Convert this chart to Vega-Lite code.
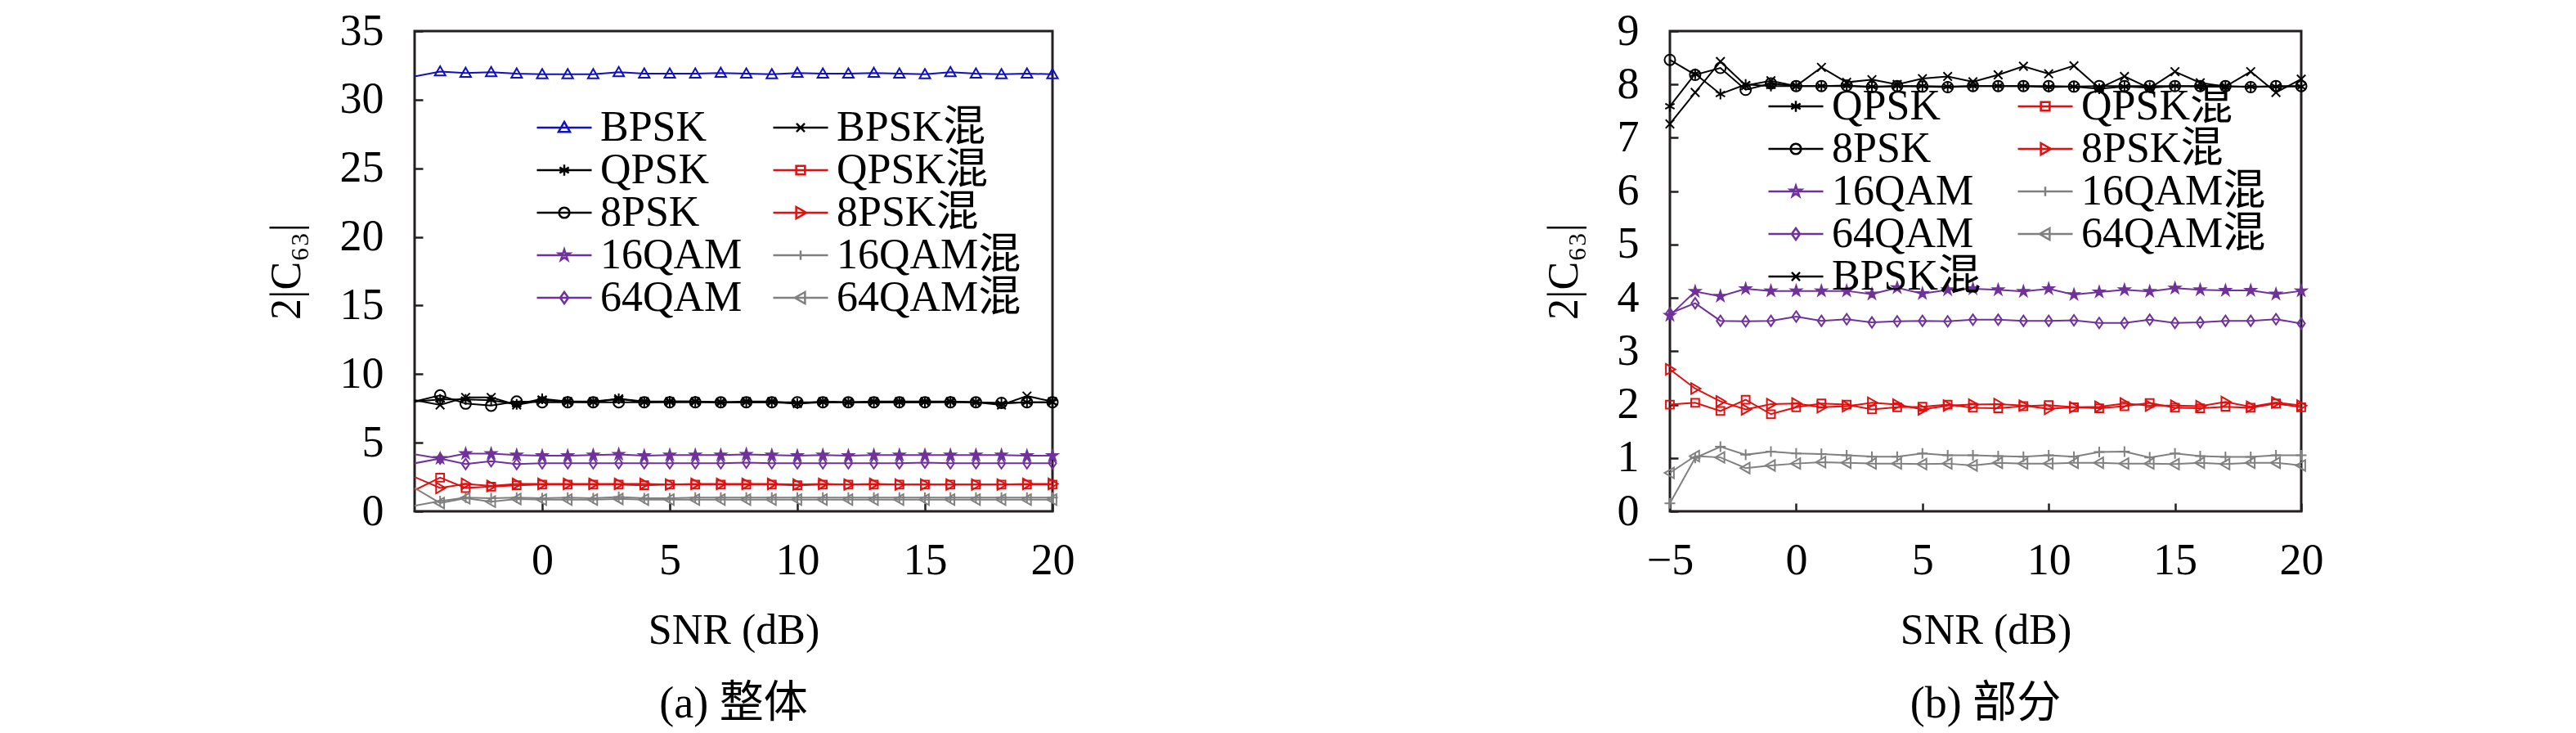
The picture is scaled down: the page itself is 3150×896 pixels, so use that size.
{
"$schema": "https://vega.github.io/schema/vega-lite/v6.json",
"padding": {"left": 322, "top": 9, "right": 0, "bottom": 0},
"spacing": 562,
"datasets": {
"a": [
{"s":"BPSK","x":-5,"v":31.7},{"s":"BPSK","x":-4,"v":32.05},{"s":"BPSK","x":-3,"v":31.95},{"s":"BPSK","x":-2,"v":32.0},{"s":"BPSK","x":-1,"v":31.9},{"s":"BPSK","x":0,"v":31.85},{"s":"BPSK","x":1,"v":31.85},{"s":"BPSK","x":2,"v":31.85},{"s":"BPSK","x":3,"v":32.0},{"s":"BPSK","x":4,"v":31.9},{"s":"BPSK","x":5,"v":31.9},{"s":"BPSK","x":6,"v":31.9},{"s":"BPSK","x":7,"v":31.95},{"s":"BPSK","x":8,"v":31.9},{"s":"BPSK","x":9,"v":31.85},{"s":"BPSK","x":10,"v":31.95},{"s":"BPSK","x":11,"v":31.9},{"s":"BPSK","x":12,"v":31.9},{"s":"BPSK","x":13,"v":31.95},{"s":"BPSK","x":14,"v":31.9},{"s":"BPSK","x":15,"v":31.85},{"s":"BPSK","x":16,"v":32.0},{"s":"BPSK","x":17,"v":31.9},{"s":"BPSK","x":18,"v":31.85},{"s":"BPSK","x":19,"v":31.9},{"s":"BPSK","x":20,"v":31.85},
{"s":"BPSK混","x":-5,"v":8.1},{"s":"BPSK混","x":-4,"v":7.75},{"s":"BPSK混","x":-3,"v":8.3},{"s":"BPSK混","x":-2,"v":8.3},{"s":"BPSK混","x":-1,"v":7.75},{"s":"BPSK混","x":0,"v":8.1},{"s":"BPSK混","x":1,"v":8.0},{"s":"BPSK混","x":2,"v":8.0},{"s":"BPSK混","x":3,"v":8.2},{"s":"BPSK混","x":4,"v":8.0},{"s":"BPSK混","x":5,"v":8.0},{"s":"BPSK混","x":6,"v":8.0},{"s":"BPSK混","x":7,"v":7.95},{"s":"BPSK混","x":8,"v":8.0},{"s":"BPSK混","x":9,"v":8.0},{"s":"BPSK混","x":10,"v":7.85},{"s":"BPSK混","x":11,"v":8.0},{"s":"BPSK混","x":12,"v":7.95},{"s":"BPSK混","x":13,"v":8.0},{"s":"BPSK混","x":14,"v":8.0},{"s":"BPSK混","x":15,"v":8.0},{"s":"BPSK混","x":16,"v":8.0},{"s":"BPSK混","x":17,"v":7.95},{"s":"BPSK混","x":18,"v":7.75},{"s":"BPSK混","x":19,"v":8.4},{"s":"BPSK混","x":20,"v":8.0},
{"s":"QPSK","x":-5,"v":8.0},{"s":"QPSK","x":-4,"v":8.15},{"s":"QPSK","x":-3,"v":8.15},{"s":"QPSK","x":-2,"v":8.1},{"s":"QPSK","x":-1,"v":7.8},{"s":"QPSK","x":0,"v":8.2},{"s":"QPSK","x":1,"v":8.0},{"s":"QPSK","x":2,"v":7.95},{"s":"QPSK","x":3,"v":8.2},{"s":"QPSK","x":4,"v":7.95},{"s":"QPSK","x":5,"v":8.0},{"s":"QPSK","x":6,"v":8.0},{"s":"QPSK","x":7,"v":7.95},{"s":"QPSK","x":8,"v":7.95},{"s":"QPSK","x":9,"v":7.95},{"s":"QPSK","x":10,"v":7.85},{"s":"QPSK","x":11,"v":7.95},{"s":"QPSK","x":12,"v":7.95},{"s":"QPSK","x":13,"v":7.95},{"s":"QPSK","x":14,"v":7.95},{"s":"QPSK","x":15,"v":7.95},{"s":"QPSK","x":16,"v":8.0},{"s":"QPSK","x":17,"v":7.95},{"s":"QPSK","x":18,"v":7.85},{"s":"QPSK","x":19,"v":7.95},{"s":"QPSK","x":20,"v":7.95},
{"s":"QPSK混","x":-5,"v":1.55},{"s":"QPSK混","x":-4,"v":2.45},{"s":"QPSK混","x":-3,"v":1.7},{"s":"QPSK混","x":-2,"v":1.8},{"s":"QPSK混","x":-1,"v":1.9},{"s":"QPSK混","x":0,"v":1.95},{"s":"QPSK混","x":1,"v":1.95},{"s":"QPSK混","x":2,"v":1.95},{"s":"QPSK混","x":3,"v":1.95},{"s":"QPSK混","x":4,"v":1.9},{"s":"QPSK混","x":5,"v":1.95},{"s":"QPSK混","x":6,"v":1.95},{"s":"QPSK混","x":7,"v":1.95},{"s":"QPSK混","x":8,"v":1.95},{"s":"QPSK混","x":9,"v":1.95},{"s":"QPSK混","x":10,"v":1.9},{"s":"QPSK混","x":11,"v":1.95},{"s":"QPSK混","x":12,"v":1.95},{"s":"QPSK混","x":13,"v":1.95},{"s":"QPSK混","x":14,"v":1.95},{"s":"QPSK混","x":15,"v":1.95},{"s":"QPSK混","x":16,"v":1.95},{"s":"QPSK混","x":17,"v":1.95},{"s":"QPSK混","x":18,"v":1.95},{"s":"QPSK混","x":19,"v":1.95},{"s":"QPSK混","x":20,"v":1.95},
{"s":"8PSK","x":-5,"v":8.0},{"s":"8PSK","x":-4,"v":8.45},{"s":"8PSK","x":-3,"v":7.85},{"s":"8PSK","x":-2,"v":7.7},{"s":"8PSK","x":-1,"v":8.0},{"s":"8PSK","x":0,"v":7.95},{"s":"8PSK","x":1,"v":7.95},{"s":"8PSK","x":2,"v":7.95},{"s":"8PSK","x":3,"v":7.95},{"s":"8PSK","x":4,"v":7.95},{"s":"8PSK","x":5,"v":7.95},{"s":"8PSK","x":6,"v":7.95},{"s":"8PSK","x":7,"v":7.95},{"s":"8PSK","x":8,"v":7.95},{"s":"8PSK","x":9,"v":7.95},{"s":"8PSK","x":10,"v":7.95},{"s":"8PSK","x":11,"v":7.95},{"s":"8PSK","x":12,"v":7.95},{"s":"8PSK","x":13,"v":7.95},{"s":"8PSK","x":14,"v":7.95},{"s":"8PSK","x":15,"v":7.95},{"s":"8PSK","x":16,"v":7.95},{"s":"8PSK","x":17,"v":7.95},{"s":"8PSK","x":18,"v":7.9},{"s":"8PSK","x":19,"v":7.95},{"s":"8PSK","x":20,"v":7.95},
{"s":"8PSK混","x":-5,"v":2.5},{"s":"8PSK混","x":-4,"v":1.7},{"s":"8PSK混","x":-3,"v":2.0},{"s":"8PSK混","x":-2,"v":1.85},{"s":"8PSK混","x":-1,"v":2.0},{"s":"8PSK混","x":0,"v":2.0},{"s":"8PSK混","x":1,"v":2.0},{"s":"8PSK混","x":2,"v":2.0},{"s":"8PSK混","x":3,"v":2.0},{"s":"8PSK混","x":4,"v":2.0},{"s":"8PSK混","x":5,"v":1.95},{"s":"8PSK混","x":6,"v":2.0},{"s":"8PSK混","x":7,"v":2.0},{"s":"8PSK混","x":8,"v":2.0},{"s":"8PSK混","x":9,"v":2.0},{"s":"8PSK混","x":10,"v":1.95},{"s":"8PSK混","x":11,"v":2.0},{"s":"8PSK混","x":12,"v":1.95},{"s":"8PSK混","x":13,"v":2.0},{"s":"8PSK混","x":14,"v":1.95},{"s":"8PSK混","x":15,"v":1.95},{"s":"8PSK混","x":16,"v":1.95},{"s":"8PSK混","x":17,"v":1.95},{"s":"8PSK混","x":18,"v":1.95},{"s":"8PSK混","x":19,"v":2.0},{"s":"8PSK混","x":20,"v":2.0},
{"s":"16QAM","x":-5,"v":4.15},{"s":"16QAM","x":-4,"v":3.85},{"s":"16QAM","x":-3,"v":4.2},{"s":"16QAM","x":-2,"v":4.2},{"s":"16QAM","x":-1,"v":4.1},{"s":"16QAM","x":0,"v":4.05},{"s":"16QAM","x":1,"v":4.05},{"s":"16QAM","x":2,"v":4.1},{"s":"16QAM","x":3,"v":4.15},{"s":"16QAM","x":4,"v":4.05},{"s":"16QAM","x":5,"v":4.1},{"s":"16QAM","x":6,"v":4.1},{"s":"16QAM","x":7,"v":4.1},{"s":"16QAM","x":8,"v":4.15},{"s":"16QAM","x":9,"v":4.1},{"s":"16QAM","x":10,"v":4.05},{"s":"16QAM","x":11,"v":4.1},{"s":"16QAM","x":12,"v":4.05},{"s":"16QAM","x":13,"v":4.1},{"s":"16QAM","x":14,"v":4.1},{"s":"16QAM","x":15,"v":4.1},{"s":"16QAM","x":16,"v":4.1},{"s":"16QAM","x":17,"v":4.1},{"s":"16QAM","x":18,"v":4.1},{"s":"16QAM","x":19,"v":4.05},{"s":"16QAM","x":20,"v":4.05},
{"s":"16QAM混","x":-5,"v":0.4},{"s":"16QAM混","x":-4,"v":0.75},{"s":"16QAM混","x":-3,"v":1.0},{"s":"16QAM混","x":-2,"v":0.95},{"s":"16QAM混","x":-1,"v":1.0},{"s":"16QAM混","x":0,"v":0.95},{"s":"16QAM混","x":1,"v":1.0},{"s":"16QAM混","x":2,"v":0.95},{"s":"16QAM混","x":3,"v":1.05},{"s":"16QAM混","x":4,"v":0.95},{"s":"16QAM混","x":5,"v":0.95},{"s":"16QAM混","x":6,"v":1.0},{"s":"16QAM混","x":7,"v":1.0},{"s":"16QAM混","x":8,"v":1.0},{"s":"16QAM混","x":9,"v":1.0},{"s":"16QAM混","x":10,"v":1.0},{"s":"16QAM混","x":11,"v":1.0},{"s":"16QAM混","x":12,"v":1.0},{"s":"16QAM混","x":13,"v":1.0},{"s":"16QAM混","x":14,"v":1.0},{"s":"16QAM混","x":15,"v":1.0},{"s":"16QAM混","x":16,"v":1.0},{"s":"16QAM混","x":17,"v":1.0},{"s":"16QAM混","x":18,"v":1.0},{"s":"16QAM混","x":19,"v":1.0},{"s":"16QAM混","x":20,"v":1.0},
{"s":"64QAM","x":-5,"v":3.5},{"s":"64QAM","x":-4,"v":3.85},{"s":"64QAM","x":-3,"v":3.45},{"s":"64QAM","x":-2,"v":3.65},{"s":"64QAM","x":-1,"v":3.45},{"s":"64QAM","x":0,"v":3.5},{"s":"64QAM","x":1,"v":3.5},{"s":"64QAM","x":2,"v":3.5},{"s":"64QAM","x":3,"v":3.5},{"s":"64QAM","x":4,"v":3.5},{"s":"64QAM","x":5,"v":3.5},{"s":"64QAM","x":6,"v":3.5},{"s":"64QAM","x":7,"v":3.5},{"s":"64QAM","x":8,"v":3.55},{"s":"64QAM","x":9,"v":3.5},{"s":"64QAM","x":10,"v":3.5},{"s":"64QAM","x":11,"v":3.5},{"s":"64QAM","x":12,"v":3.5},{"s":"64QAM","x":13,"v":3.5},{"s":"64QAM","x":14,"v":3.5},{"s":"64QAM","x":15,"v":3.55},{"s":"64QAM","x":16,"v":3.5},{"s":"64QAM","x":17,"v":3.5},{"s":"64QAM","x":18,"v":3.5},{"s":"64QAM","x":19,"v":3.5},{"s":"64QAM","x":20,"v":3.5},
{"s":"64QAM混","x":-5,"v":1.7},{"s":"64QAM混","x":-4,"v":0.6},{"s":"64QAM混","x":-3,"v":0.95},{"s":"64QAM混","x":-2,"v":0.7},{"s":"64QAM混","x":-1,"v":0.9},{"s":"64QAM混","x":0,"v":0.85},{"s":"64QAM混","x":1,"v":0.85},{"s":"64QAM混","x":2,"v":0.85},{"s":"64QAM混","x":3,"v":0.9},{"s":"64QAM混","x":4,"v":0.85},{"s":"64QAM混","x":5,"v":0.85},{"s":"64QAM混","x":6,"v":0.85},{"s":"64QAM混","x":7,"v":0.85},{"s":"64QAM混","x":8,"v":0.85},{"s":"64QAM混","x":9,"v":0.85},{"s":"64QAM混","x":10,"v":0.85},{"s":"64QAM混","x":11,"v":0.85},{"s":"64QAM混","x":12,"v":0.85},{"s":"64QAM混","x":13,"v":0.85},{"s":"64QAM混","x":14,"v":0.85},{"s":"64QAM混","x":15,"v":0.85},{"s":"64QAM混","x":16,"v":0.85},{"s":"64QAM混","x":17,"v":0.85},{"s":"64QAM混","x":18,"v":0.85},{"s":"64QAM混","x":19,"v":0.85},{"s":"64QAM混","x":20,"v":0.85}
],
"b": [
{"s":"QPSK","x":-5,"v":7.59},{"s":"QPSK","x":-4,"v":8.2},{"s":"QPSK","x":-3,"v":7.82},{"s":"QPSK","x":-2,"v":8.0},{"s":"QPSK","x":-1,"v":7.97},{"s":"QPSK","x":0,"v":7.97},{"s":"QPSK","x":1,"v":7.97},{"s":"QPSK","x":2,"v":7.97},{"s":"QPSK","x":3,"v":7.96},{"s":"QPSK","x":4,"v":7.97},{"s":"QPSK","x":5,"v":7.97},{"s":"QPSK","x":6,"v":7.96},{"s":"QPSK","x":7,"v":7.97},{"s":"QPSK","x":8,"v":7.97},{"s":"QPSK","x":9,"v":7.97},{"s":"QPSK","x":10,"v":7.95},{"s":"QPSK","x":11,"v":7.96},{"s":"QPSK","x":12,"v":7.92},{"s":"QPSK","x":13,"v":7.96},{"s":"QPSK","x":14,"v":7.94},{"s":"QPSK","x":15,"v":7.97},{"s":"QPSK","x":16,"v":7.96},{"s":"QPSK","x":17,"v":7.96},{"s":"QPSK","x":18,"v":7.96},{"s":"QPSK","x":19,"v":7.96},{"s":"QPSK","x":20,"v":7.96},
{"s":"QPSK混","x":-5,"v":2.0},{"s":"QPSK混","x":-4,"v":2.035},{"s":"QPSK混","x":-3,"v":1.88},{"s":"QPSK混","x":-2,"v":2.09},{"s":"QPSK混","x":-1,"v":1.82},{"s":"QPSK混","x":0,"v":1.95},{"s":"QPSK混","x":1,"v":2.02},{"s":"QPSK混","x":2,"v":2.0},{"s":"QPSK混","x":3,"v":1.91},{"s":"QPSK混","x":4,"v":1.95},{"s":"QPSK混","x":5,"v":1.96},{"s":"QPSK混","x":6,"v":2.0},{"s":"QPSK混","x":7,"v":1.94},{"s":"QPSK混","x":8,"v":1.93},{"s":"QPSK混","x":9,"v":1.97},{"s":"QPSK混","x":10,"v":1.99},{"s":"QPSK混","x":11,"v":1.95},{"s":"QPSK混","x":12,"v":1.93},{"s":"QPSK混","x":13,"v":1.97},{"s":"QPSK混","x":14,"v":2.03},{"s":"QPSK混","x":15,"v":1.94},{"s":"QPSK混","x":16,"v":1.93},{"s":"QPSK混","x":17,"v":1.96},{"s":"QPSK混","x":18,"v":1.94},{"s":"QPSK混","x":19,"v":2.02},{"s":"QPSK混","x":20,"v":1.95},
{"s":"8PSK","x":-5,"v":8.46},{"s":"8PSK","x":-4,"v":8.18},{"s":"8PSK","x":-3,"v":8.31},{"s":"8PSK","x":-2,"v":7.9},{"s":"8PSK","x":-1,"v":8.02},{"s":"8PSK","x":0,"v":7.97},{"s":"8PSK","x":1,"v":7.97},{"s":"8PSK","x":2,"v":7.98},{"s":"8PSK","x":3,"v":7.95},{"s":"8PSK","x":4,"v":7.97},{"s":"8PSK","x":5,"v":7.96},{"s":"8PSK","x":6,"v":7.95},{"s":"8PSK","x":7,"v":7.97},{"s":"8PSK","x":8,"v":7.97},{"s":"8PSK","x":9,"v":7.97},{"s":"8PSK","x":10,"v":7.97},{"s":"8PSK","x":11,"v":7.96},{"s":"8PSK","x":12,"v":7.97},{"s":"8PSK","x":13,"v":7.97},{"s":"8PSK","x":14,"v":7.97},{"s":"8PSK","x":15,"v":7.97},{"s":"8PSK","x":16,"v":7.97},{"s":"8PSK","x":17,"v":7.97},{"s":"8PSK","x":18,"v":7.95},{"s":"8PSK","x":19,"v":7.97},{"s":"8PSK","x":20,"v":7.97},
{"s":"8PSK混","x":-5,"v":2.66},{"s":"8PSK混","x":-4,"v":2.3},{"s":"8PSK混","x":-3,"v":2.06},{"s":"8PSK混","x":-2,"v":1.91},{"s":"8PSK混","x":-1,"v":2.01},{"s":"8PSK混","x":0,"v":2.02},{"s":"8PSK混","x":1,"v":1.95},{"s":"8PSK混","x":2,"v":1.97},{"s":"8PSK混","x":3,"v":2.035},{"s":"8PSK混","x":4,"v":2.0},{"s":"8PSK混","x":5,"v":1.91},{"s":"8PSK混","x":6,"v":1.98},{"s":"8PSK混","x":7,"v":2.0},{"s":"8PSK混","x":8,"v":2.01},{"s":"8PSK混","x":9,"v":1.98},{"s":"8PSK混","x":10,"v":1.92},{"s":"8PSK混","x":11,"v":1.95},{"s":"8PSK混","x":12,"v":1.96},{"s":"8PSK混","x":13,"v":2.02},{"s":"8PSK混","x":14,"v":1.98},{"s":"8PSK混","x":15,"v":1.98},{"s":"8PSK混","x":16,"v":1.97},{"s":"8PSK混","x":17,"v":2.05},{"s":"8PSK混","x":18,"v":1.96},{"s":"8PSK混","x":19,"v":2.04},{"s":"8PSK混","x":20,"v":1.98},
{"s":"16QAM","x":-5,"v":3.67},{"s":"16QAM","x":-4,"v":4.12},{"s":"16QAM","x":-3,"v":4.03},{"s":"16QAM","x":-2,"v":4.17},{"s":"16QAM","x":-1,"v":4.13},{"s":"16QAM","x":0,"v":4.13},{"s":"16QAM","x":1,"v":4.13},{"s":"16QAM","x":2,"v":4.13},{"s":"16QAM","x":3,"v":4.07},{"s":"16QAM","x":4,"v":4.19},{"s":"16QAM","x":5,"v":4.08},{"s":"16QAM","x":6,"v":4.15},{"s":"16QAM","x":7,"v":4.17},{"s":"16QAM","x":8,"v":4.15},{"s":"16QAM","x":9,"v":4.12},{"s":"16QAM","x":10,"v":4.17},{"s":"16QAM","x":11,"v":4.06},{"s":"16QAM","x":12,"v":4.11},{"s":"16QAM","x":13,"v":4.15},{"s":"16QAM","x":14,"v":4.12},{"s":"16QAM","x":15,"v":4.18},{"s":"16QAM","x":16,"v":4.15},{"s":"16QAM","x":17,"v":4.14},{"s":"16QAM","x":18,"v":4.14},{"s":"16QAM","x":19,"v":4.07},{"s":"16QAM","x":20,"v":4.13},
{"s":"16QAM混","x":-5,"v":0.15},{"s":"16QAM混","x":-4,"v":1.0},{"s":"16QAM混","x":-3,"v":1.21},{"s":"16QAM混","x":-2,"v":1.06},{"s":"16QAM混","x":-1,"v":1.12},{"s":"16QAM混","x":0,"v":1.085},{"s":"16QAM混","x":1,"v":1.075},{"s":"16QAM混","x":2,"v":1.05},{"s":"16QAM混","x":3,"v":1.025},{"s":"16QAM混","x":4,"v":1.025},{"s":"16QAM混","x":5,"v":1.085},{"s":"16QAM混","x":6,"v":1.05},{"s":"16QAM混","x":7,"v":1.05},{"s":"16QAM混","x":8,"v":1.035},{"s":"16QAM混","x":9,"v":1.025},{"s":"16QAM混","x":10,"v":1.05},{"s":"16QAM混","x":11,"v":1.025},{"s":"16QAM混","x":12,"v":1.11},{"s":"16QAM混","x":13,"v":1.12},{"s":"16QAM混","x":14,"v":1.01},{"s":"16QAM混","x":15,"v":1.085},{"s":"16QAM混","x":16,"v":1.035},{"s":"16QAM混","x":17,"v":1.02},{"s":"16QAM混","x":18,"v":1.02},{"s":"16QAM混","x":19,"v":1.05},{"s":"16QAM混","x":20,"v":1.05},
{"s":"64QAM","x":-5,"v":3.71},{"s":"64QAM","x":-4,"v":3.9},{"s":"64QAM","x":-3,"v":3.57},{"s":"64QAM","x":-2,"v":3.56},{"s":"64QAM","x":-1,"v":3.57},{"s":"64QAM","x":0,"v":3.65},{"s":"64QAM","x":1,"v":3.57},{"s":"64QAM","x":2,"v":3.6},{"s":"64QAM","x":3,"v":3.54},{"s":"64QAM","x":4,"v":3.56},{"s":"64QAM","x":5,"v":3.57},{"s":"64QAM","x":6,"v":3.56},{"s":"64QAM","x":7,"v":3.59},{"s":"64QAM","x":8,"v":3.59},{"s":"64QAM","x":9,"v":3.57},{"s":"64QAM","x":10,"v":3.57},{"s":"64QAM","x":11,"v":3.58},{"s":"64QAM","x":12,"v":3.53},{"s":"64QAM","x":13,"v":3.53},{"s":"64QAM","x":14,"v":3.59},{"s":"64QAM","x":15,"v":3.53},{"s":"64QAM","x":16,"v":3.54},{"s":"64QAM","x":17,"v":3.57},{"s":"64QAM","x":18,"v":3.57},{"s":"64QAM","x":19,"v":3.6},{"s":"64QAM","x":20,"v":3.52},
{"s":"64QAM混","x":-5,"v":0.72},{"s":"64QAM混","x":-4,"v":1.035},{"s":"64QAM混","x":-3,"v":1.01},{"s":"64QAM混","x":-2,"v":0.81},{"s":"64QAM混","x":-1,"v":0.86},{"s":"64QAM混","x":0,"v":0.895},{"s":"64QAM混","x":1,"v":0.92},{"s":"64QAM混","x":2,"v":0.91},{"s":"64QAM混","x":3,"v":0.895},{"s":"64QAM混","x":4,"v":0.895},{"s":"64QAM混","x":5,"v":0.885},{"s":"64QAM混","x":6,"v":0.895},{"s":"64QAM混","x":7,"v":0.86},{"s":"64QAM混","x":8,"v":0.91},{"s":"64QAM混","x":9,"v":0.895},{"s":"64QAM混","x":10,"v":0.895},{"s":"64QAM混","x":11,"v":0.91},{"s":"64QAM混","x":12,"v":0.91},{"s":"64QAM混","x":13,"v":0.895},{"s":"64QAM混","x":14,"v":0.895},{"s":"64QAM混","x":15,"v":0.885},{"s":"64QAM混","x":16,"v":0.91},{"s":"64QAM混","x":17,"v":0.885},{"s":"64QAM混","x":18,"v":0.91},{"s":"64QAM混","x":19,"v":0.91},{"s":"64QAM混","x":20,"v":0.86},
{"s":"BPSK混","x":-5,"v":7.26},{"s":"BPSK混","x":-4,"v":7.85},{"s":"BPSK混","x":-3,"v":8.43},{"s":"BPSK混","x":-2,"v":7.98},{"s":"BPSK混","x":-1,"v":8.07},{"s":"BPSK混","x":0,"v":7.97},{"s":"BPSK混","x":1,"v":8.32},{"s":"BPSK混","x":2,"v":8.04},{"s":"BPSK混","x":3,"v":8.09},{"s":"BPSK混","x":4,"v":8.0},{"s":"BPSK混","x":5,"v":8.11},{"s":"BPSK混","x":6,"v":8.15},{"s":"BPSK混","x":7,"v":8.05},{"s":"BPSK混","x":8,"v":8.18},{"s":"BPSK混","x":9,"v":8.34},{"s":"BPSK混","x":10,"v":8.2},{"s":"BPSK混","x":11,"v":8.35},{"s":"BPSK混","x":12,"v":7.93},{"s":"BPSK混","x":13,"v":8.15},{"s":"BPSK混","x":14,"v":7.93},{"s":"BPSK混","x":15,"v":8.24},{"s":"BPSK混","x":16,"v":8.03},{"s":"BPSK混","x":17,"v":7.96},{"s":"BPSK混","x":18,"v":8.24},{"s":"BPSK混","x":19,"v":7.85},{"s":"BPSK混","x":20,"v":8.1}
]
},
"hconcat": [
{
"width": 780, "height": 587,
"data": {"name": "a"},
"title": {"text": "(a) 整体", "orient": "bottom", "anchor": "middle", "offset": 38},
"encoding": {
 "x": {"field": "x", "type": "quantitative", "title": "SNR (dB)", "scale": {"domain": [-5, 20], "nice": false, "zero": false}, "axis": {"values": [0, 5, 10, 15, 20]}},
 "y": {"field": "v", "type": "quantitative", "title": "2|C₆₃|", "scale": {"domain": [0, 35], "nice": false}, "axis": {"values": [0, 5, 10, 15, 20, 25, 30, 35]}}
},
"layer": [
 {"mark": {"type": "line", "strokeWidth": 2},
  "encoding": {"color": {"field": "s", "type": "nominal", "legend": null,
     "scale": {"domain": ["BPSK","BPSK混","QPSK","QPSK混","8PSK","8PSK混","16QAM","16QAM混","64QAM","64QAM混"],
               "range": ["#1010c0","#000000","#000000","#e01010","#000000","#e01010","#70329a","#808080","#70329a","#808080"]}},
   "order": {"field": "x", "type": "quantitative"}}},
 {"transform": [{"filter": "datum.x > -5"}],
  "mark": {"type": "point", "filled": false, "size": 170, "strokeWidth": 2, "opacity": 1},
  "encoding": {
   "color": {"field": "s", "type": "nominal", "legend": null,
     "scale": {"domain": ["BPSK","BPSK混","QPSK","QPSK混","8PSK","8PSK混","16QAM","16QAM混","64QAM","64QAM混"],
               "range": ["#1010c0","#000000","#000000","#e01010","#000000","#e01010","#70329a","#808080","#70329a","#808080"]}},
   "fill": {"condition": {"test": "datum.s === '16QAM'", "value": "#70329a"}, "value": "transparent"},
   "shape": {"field": "s", "type": "nominal", "legend": null,
     "scale": {"domain": ["BPSK","BPSK混","QPSK","QPSK混","8PSK","8PSK混","16QAM","16QAM混","64QAM","64QAM混"],
               "range": ["M0,-1L1,0.75L-1,0.75Z","M-0.8,-0.8L0.8,0.8M-0.8,0.8L0.8,-0.8","M0,-1L0,1M-0.87,-0.5L0.87,0.5M-0.87,0.5L0.87,-0.5","M-0.75,-0.75L0.75,-0.75L0.75,0.75L-0.75,0.75Z","M-1,0A1,1,0,1,0,1,0A1,1,0,1,0,-1,0Z","M-0.75,-1L1,0L-0.75,1Z","M0,-1L0.223,-0.307L0.951,-0.309L0.361,0.117L0.588,0.809L0,0.38L-0.588,0.809L-0.361,0.117L-0.951,-0.309L-0.223,-0.307Z","M-1,0L1,0M0,-1L0,1","M0,-1L0.7,0L0,1L-0.7,0Z","M0.75,-1L-1,0L0.75,1Z"]}}
  }},
 {"mark": {"type": "point", "filled": false, "size": 4489, "strokeWidth": 2.5, "opacity": 0},
  "encoding": {
   "color": {"field": "s", "type": "nominal",
     "scale": {"domain": ["BPSK","BPSK混","QPSK","QPSK混","8PSK","8PSK混","16QAM","16QAM混","64QAM","64QAM混"],
               "range": ["#1010c0","#000000","#000000","#e01010","#000000","#e01010","#70329a","#808080","#70329a","#808080"]},
     "legend": {"orient": "none", "direction": "horizontal", "legendX": 148, "legendY": 92, "title": null, "columns": 2, "columnPadding": 36, "rowPadding": 0, "clipHeight": 52, "symbolSize": 4489, "symbolStrokeWidth": 2.5, "labelFontSize": 52, "labelOffset": 9, "labelLimit": 500, "padding": 0,
       "encode": {"symbols": {"update": {"opacity": {"value": 1}}}}}},
   "shape": {"field": "s", "type": "nominal",
     "scale": {"domain": ["BPSK","BPSK混","QPSK","QPSK混","8PSK","8PSK混","16QAM","16QAM混","64QAM","64QAM混"],
               "range": ["M-1,0L1,0M0,-0.21L0.21,0.16L-0.21,0.16Z","M-1,0L1,0M-0.15,-0.15L0.15,0.15M-0.15,0.15L0.15,-0.15","M-1,0L1,0M0,-0.2L0,0.2M-0.17,-0.1L0.17,0.1M-0.17,0.1L0.17,-0.1","M-1,0L1,0M-0.16,-0.16L0.16,-0.16L0.16,0.16L-0.16,0.16Z","M-1,0L1,0M-0.19,0A0.19,0.19,0,1,0,0.19,0A0.19,0.19,0,1,0,-0.19,0Z","M-1,0L1,0M-0.16,-0.21L0.21,0L-0.16,0.21Z","M-1,0L1,0M0,-0.21L0.047,-0.064L0.2,-0.065L0.076,0.025L0.123,0.17L0,0.08L-0.123,0.17L-0.076,0.025L-0.2,-0.065L-0.047,-0.064Z","M-1,0L1,0M0,-0.17L0,0.17","M-1,0L1,0M0,-0.21L0.15,0L0,0.21L-0.15,0Z","M-1,0L1,0M0.16,-0.21L-0.21,0L0.16,0.21Z"]},
     "legend": {"orient": "none", "direction": "horizontal", "legendX": 148, "legendY": 92, "title": null, "columns": 2, "columnPadding": 36, "rowPadding": 0, "clipHeight": 52, "symbolSize": 4489, "symbolStrokeWidth": 2.5, "labelFontSize": 52, "labelOffset": 9, "labelLimit": 500, "padding": 0,
       "encode": {"symbols": {"update": {"opacity": {"value": 1}}}}}}
  }}
],
"resolve": {"scale": {"shape": "independent", "color": "independent"}}
},
{
"width": 772, "height": 587,
"data": {"name": "b"},
"title": {"text": "(b) 部分", "orient": "bottom", "anchor": "middle", "offset": 38},
"encoding": {
 "x": {"field": "x", "type": "quantitative", "title": "SNR (dB)", "scale": {"domain": [-5, 20], "nice": false, "zero": false}, "axis": {"values": [-5, 0, 5, 10, 15, 20], "labelExpr": "replace(datum.label, '-', '−')"}},
 "y": {"field": "v", "type": "quantitative", "title": "2|C₆₃|", "scale": {"domain": [0, 9], "nice": false}, "axis": {"values": [0, 1, 2, 3, 4, 5, 6, 7, 8, 9]}}
},
"layer": [
 {"mark": {"type": "line", "strokeWidth": 2},
  "encoding": {"color": {"field": "s", "type": "nominal", "legend": null,
     "scale": {"domain": ["QPSK","QPSK混","8PSK","8PSK混","16QAM","16QAM混","64QAM","64QAM混","BPSK混"],
               "range": ["#000000","#e01010","#000000","#e01010","#70329a","#808080","#70329a","#808080","#000000"]}},
   "order": {"field": "x", "type": "quantitative"}}},
 {"mark": {"type": "point", "filled": false, "size": 170, "strokeWidth": 2, "opacity": 1},
  "encoding": {
   "color": {"field": "s", "type": "nominal", "legend": null,
     "scale": {"domain": ["QPSK","QPSK混","8PSK","8PSK混","16QAM","16QAM混","64QAM","64QAM混","BPSK混"],
               "range": ["#000000","#e01010","#000000","#e01010","#70329a","#808080","#70329a","#808080","#000000"]}},
   "fill": {"condition": {"test": "datum.s === '16QAM'", "value": "#70329a"}, "value": "transparent"},
   "shape": {"field": "s", "type": "nominal", "legend": null,
     "scale": {"domain": ["QPSK","QPSK混","8PSK","8PSK混","16QAM","16QAM混","64QAM","64QAM混","BPSK混"],
               "range": ["M0,-1L0,1M-0.87,-0.5L0.87,0.5M-0.87,0.5L0.87,-0.5","M-0.75,-0.75L0.75,-0.75L0.75,0.75L-0.75,0.75Z","M-1,0A1,1,0,1,0,1,0A1,1,0,1,0,-1,0Z","M-0.75,-1L1,0L-0.75,1Z","M0,-1L0.223,-0.307L0.951,-0.309L0.361,0.117L0.588,0.809L0,0.38L-0.588,0.809L-0.361,0.117L-0.951,-0.309L-0.223,-0.307Z","M-1,0L1,0M0,-1L0,1","M0,-1L0.7,0L0,1L-0.7,0Z","M0.75,-1L-1,0L0.75,1Z","M-0.8,-0.8L0.8,0.8M-0.8,0.8L0.8,-0.8"]}}
  }},
 {"mark": {"type": "point", "filled": false, "size": 4489, "strokeWidth": 2.5, "opacity": 0},
  "encoding": {
   "color": {"field": "s", "type": "nominal",
     "scale": {"domain": ["QPSK","QPSK混","8PSK","8PSK混","16QAM","16QAM混","64QAM","64QAM混","BPSK混"],
               "range": ["#000000","#e01010","#000000","#e01010","#70329a","#808080","#70329a","#808080","#000000"]},
     "legend": {"orient": "none", "direction": "horizontal", "legendX": 119, "legendY": 66, "title": null, "columns": 2, "columnPadding": 43, "rowPadding": 0, "clipHeight": 52, "symbolSize": 4489, "symbolStrokeWidth": 2.5, "labelFontSize": 52, "labelOffset": 9, "labelLimit": 500, "padding": 0,
       "encode": {"symbols": {"update": {"opacity": {"value": 1}}}}}},
   "shape": {"field": "s", "type": "nominal",
     "scale": {"domain": ["QPSK","QPSK混","8PSK","8PSK混","16QAM","16QAM混","64QAM","64QAM混","BPSK混"],
               "range": ["M-1,0L1,0M0,-0.2L0,0.2M-0.17,-0.1L0.17,0.1M-0.17,0.1L0.17,-0.1","M-1,0L1,0M-0.16,-0.16L0.16,-0.16L0.16,0.16L-0.16,0.16Z","M-1,0L1,0M-0.19,0A0.19,0.19,0,1,0,0.19,0A0.19,0.19,0,1,0,-0.19,0Z","M-1,0L1,0M-0.16,-0.21L0.21,0L-0.16,0.21Z","M-1,0L1,0M0,-0.21L0.047,-0.064L0.2,-0.065L0.076,0.025L0.123,0.17L0,0.08L-0.123,0.17L-0.076,0.025L-0.2,-0.065L-0.047,-0.064Z","M-1,0L1,0M0,-0.17L0,0.17","M-1,0L1,0M0,-0.21L0.15,0L0,0.21L-0.15,0Z","M-1,0L1,0M0.16,-0.21L-0.21,0L0.16,0.21Z","M-1,0L1,0M-0.15,-0.15L0.15,0.15M-0.15,0.15L0.15,-0.15"]},
     "legend": {"orient": "none", "direction": "horizontal", "legendX": 119, "legendY": 66, "title": null, "columns": 2, "columnPadding": 43, "rowPadding": 0, "clipHeight": 52, "symbolSize": 4489, "symbolStrokeWidth": 2.5, "labelFontSize": 52, "labelOffset": 9, "labelLimit": 500, "padding": 0,
       "encode": {"symbols": {"update": {"opacity": {"value": 1}}}}}}
  }}
],
"resolve": {"scale": {"shape": "independent", "color": "independent"}}
}
],
"config": {
 "font": "Liberation Serif",
 "background": "white",
 "view": {"stroke": "#231f20", "strokeWidth": 3},
 "axis": {"grid": false, "domain": false, "ticks": true, "tickSize": -10, "tickWidth": 2.5, "tickColor": "#231f20",
   "labelFont": "Liberation Serif", "labelFontSize": 54, "labelColor": "#000000", "labelFlush": false, "labelOverlap": false,
   "titleFont": "Liberation Serif", "titleFontSize": 52, "titleFontWeight": "normal", "titleColor": "#000000"},
 "axisX": {"labelPadding": 43, "titlePadding": 33},
 "axisY": {"labelPadding": 48, "titlePadding": 38},
 "legend": {"labelFont": "Liberation Serif, Noto Sans CJK SC", "labelColor": "#000000", "symbolFillColor": "transparent"},
 "title": {"font": "Liberation Serif, Noto Sans CJK SC", "fontSize": 54, "fontWeight": "normal", "color": "#000000"}
}
}
